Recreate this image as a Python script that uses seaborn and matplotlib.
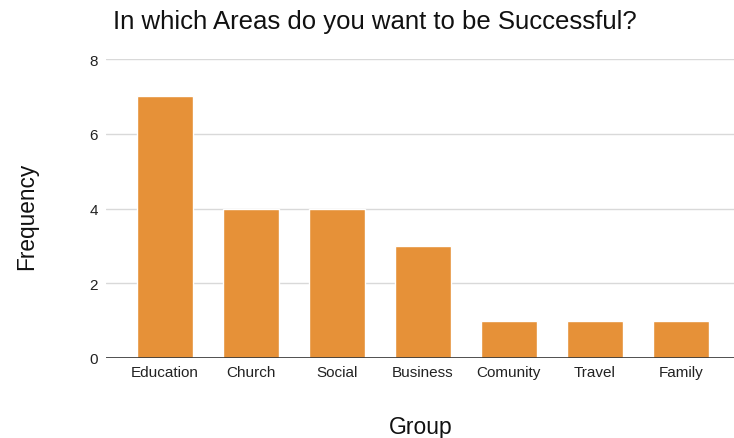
import matplotlib
matplotlib.use("Agg")
import matplotlib.pyplot as plt
import seaborn as sns
import pandas as pd

groups = ["Education", "Church", "Social", "Business", "Comunity", "Travel", "Family"]
frequency = [7, 4, 4, 3, 1, 1, 1]
y_ticks = [0, 2, 4, 6, 8]

sns.set_theme(style="white")
plt.rcParams["font.family"] = ["Liberation Sans", "DejaVu Sans"]

df = pd.DataFrame({"Group": groups, "Frequency": frequency})

fig = plt.figure(figsize=(7.34, 4.39), dpi=100)
ax = fig.add_axes([106 / 734, 80 / 439, 1 - 106 / 734, 299 / 439])

sns.barplot(data=df, x="Group", y="Frequency", color="#E69138",
            saturation=1, width=0.65, ax=ax, zorder=3)

ax.set_ylim(0, 8)
ax.set_xlim(-0.687, 6.62)
ax.set_yticks(y_ticks)
ax.yaxis.grid(True, color="#d9d9d9", linewidth=1, zorder=0)
ax.axhline(0, color="#333333", linewidth=1.2, zorder=4)
for s in ax.spines.values():
    s.set_visible(False)
ax.tick_params(axis="both", length=0, labelsize=11, colors="#222222")
ax.tick_params(axis="y", pad=6)
ax.tick_params(axis="x", pad=5)

ax.set_xlabel("")
ax.set_ylabel("")
fig.text(421 / 734, 1 - 428 / 439, "Group", fontsize=16.5,
         color="#111111", ha="center", va="center")
fig.text(27 / 734, 1 - 216 / 439, "Frequency", rotation=90, fontsize=16.3,
         color="#111111", ha="center", va="center")
fig.text(113 / 734, 1 - 22 / 439, "In which Areas do you want to be Successful?",
         fontsize=18.5, color="#111111", ha="left", va="center")

fig.savefig("out.png", dpi=100)
